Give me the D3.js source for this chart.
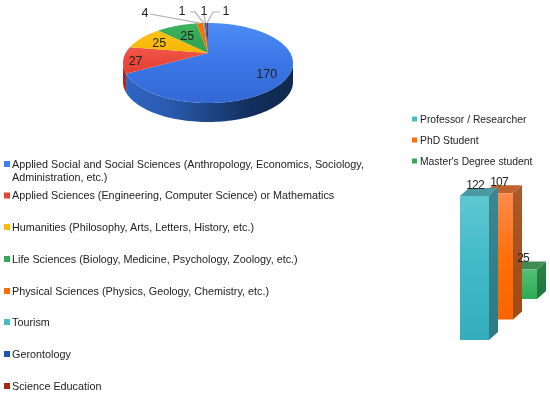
<!DOCTYPE html>
<html>
<head>
<meta charset="utf-8">
<script src="https://cdn.jsdelivr.net/npm/d3@7"></script>
<style>
  html, body { margin: 0; padding: 0; background: #fff; }
  svg { display: block; filter: blur(0.35px); }
  text { font-family: "Liberation Sans", Arial, sans-serif; fill: #222; }
</style>
</head>
<body>
<div id="vis"></div>
<script>
// Pie data
const areas = [
    "Applied Social and Social Sciences (Anthropology, Economics, Sociology,|Administration, etc.)",
    "Applied Sciences (Engineering, Computer Science) or Mathematics",
    "Humanities (Philosophy, Arts, Letters, History, etc.)",
    "Life Sciences (Biology, Medicine, Psychology, Zoology, etc.)",
    "Physical Sciences (Physics, Geology, Chemistry, etc.)",
    "Tourism",
    "Gerontology",
    "Science Education"
];
const areaValues = [170, 27, 25, 25, 4, 1, 1, 1];
const areaColors = ["#3f7ff0", "#ea4335", "#fbbc04", "#34a853", "#ff6d01", "#46bdc6", "#1a56b0", "#a52714"];
const areaLegendY = [164, 195.5, 227, 259, 291, 322, 354, 386];

// Bar data
const roles = ["Professor / Researcher", "PhD Student", "Master's Degree student"];
const roleValues = [122, 107, 25];
const roleColors = ["#46bdc6", "#ff6d01", "#34a853"];
const roleLegendY = [119, 140, 161];

const WIDTH = 550;
const HEIGHT = 394;

const SVG = d3.select("#vis").append("svg").attr("width", WIDTH).attr("height", HEIGHT);
const defs = SVG.append("defs");

function gradiente(id, stops, horizontal) {
    const g = defs.append("linearGradient").attr("id", id)
        .attr("x1", 0).attr("y1", 0)
        .attr("x2", horizontal ? 1 : 0).attr("y2", horizontal ? 0 : 1);
    stops.forEach((c, i) => g.append("stop").attr("offset", i / (stops.length - 1)).attr("stop-color", c));
    return `url(#${id})`;
}

// ---------- Pie, tilted with a bit of perspective ----------
const PIE = { cx: 208, cy: 53, rx: 82.3, ry: 37.5, persp: 0.25, depth: 19 };

// angle clockwise from the top, f = fraction of the radius
function proyectar(a, f = 1) {
    const s = Math.sin(a) * f, c = Math.cos(a) * f;
    const k = 1 / (1 + PIE.persp * c);
    return [PIE.cx + PIE.rx * s * k, PIE.cy - PIE.ry * c * k];
}

function arco(a0, a1) {
    const n = Math.max(2, Math.ceil((a1 - a0) / 0.03));
    return d3.range(n + 1).map(i => proyectar(a0 + (a1 - a0) * i / n));
}

const linea = d3.line();
const slices = d3.pie().sort(null)(areaValues);
const pieG = SVG.append("g").attr("class", "pie");

// Wall: only the front part of the rim is visible
const frontIni = Math.acos(-PIE.persp);
const frontFin = 2 * Math.PI - frontIni;
const wallFill = [
    gradiente("wall0", ["#2f64c4", "#2a5bb0", "#1d4685", "#122e5c", "#10294f"], true),
    "#a32a20"
];
slices.forEach((d, i) => {
    const a0 = Math.max(d.startAngle, frontIni);
    const a1 = Math.min(d.endAngle, frontFin);
    if (a1 <= a0) return;
    const top = arco(a0, a1);
    const bottom = top.map(p => [p[0], p[1] + PIE.depth]).reverse();
    pieG.append("path")
        .attr("d", linea(top.concat(bottom)) + "Z")
        .attr("fill", wallFill[i] || areaColors[i]);
});

const sliceFill = [
    gradiente("s0", ["#4d8cf5", "#3a76e6", "#3368d4"]),
    gradiente("s1", ["#f0564a", "#e53d30"]),
    gradiente("s2", ["#fcc21d", "#f8b500"]),
    gradiente("s3", ["#3fb360", "#2f9f4c"]),
    "#ff6d01", "#46bdc6", "#1a56b0", "#a52714"
];
slices.forEach((d, i) => {
    const pts = [[PIE.cx, PIE.cy]].concat(arco(d.startAngle, d.endAngle));
    pieG.append("path").attr("d", linea(pts) + "Z").attr("fill", sliceFill[i]);
});

// Labels inside the big slices, leader lines for the small ones
const insideFrac = [0.75, 0.86, 0.72, 0.62];
const insideDy = [9, 6, 5, 5];
slices.slice(0, 4).forEach((d, i) => {
    const p = proyectar((d.startAngle + d.endAngle) / 2, insideFrac[i]);
    pieG.append("text").attr("x", p[0]).attr("y", p[1] + insideDy[i])
        .attr("text-anchor", "middle").attr("font-size", 12.5).text(d.value);
});

const leaderLabel = [[145, 12], [182, 10], [204, 10], [226, 10]];
const leaderElbow = [[150, 14], [195, 12], [204, 15], [213, 12]];
const leaderStart = [null, [190, 12], null, [220, 12]];
slices.slice(4).forEach((d, i) => {
    const p = proyectar((d.startAngle + d.endAngle) / 2);
    const pts = [leaderStart[i], leaderElbow[i], p].filter(Boolean);
    pieG.append("path").attr("d", linea(pts))
        .attr("fill", "none").attr("stroke", "#b0b0b0").attr("stroke-width", 1.2);
    pieG.append("text").attr("x", leaderLabel[i][0]).attr("y", leaderLabel[i][1] + 4.5)
        .attr("text-anchor", "middle").attr("font-size", 12.5).text(d.value);
});

// ---------- Left legend ----------
const legend1 = SVG.append("g").attr("class", "legend-areas");
areas.forEach((t, i) => {
    const y = areaLegendY[i];
    legend1.append("rect").attr("x", 4).attr("y", y - 3).attr("width", 6).attr("height", 6).attr("fill", areaColors[i]);
    t.split("|").forEach((parte, j) => {
        legend1.append("text").attr("x", 12).attr("y", y + 3.8 + j * 13)
            .attr("font-size", 10.8).text(parte);
    });
});

// ---------- Right legend ----------
const legend2 = SVG.append("g").attr("class", "legend-roles");
roles.forEach((t, i) => {
    const y = roleLegendY[i];
    legend2.append("rect").attr("x", 412).attr("y", y - 2.5).attr("width", 5).attr("height", 5).attr("fill", roleColors[i]);
    legend2.append("text").attr("x", 420).attr("y", y + 3.6).attr("font-size", 10.35).text(t);
});

// ---------- 3D bars: each one steps right and up from the previous ----------
const BAR_W = 29, DEPTH_X = 9, DEPTH_Y = 8;
const escalaX = d3.scalePoint().domain(roles).range([460, 508]);
const escalaBase = d3.scalePoint().domain(roles).range([340, 299]);
const escalaAlto = d3.scaleLinear().domain([0, 122]).range([0, 144]);

const barFront = [
    gradiente("f0", ["#5ec8d1", "#3fb9c8", "#35adbd"]),
    gradiente("f1", ["#ff8b4d", "#ff6f0a", "#fa6400"]),
    gradiente("f2", ["#52c073", "#2eaa55"])
];
const barSide = [
    gradiente("l0", ["#3b8690", "#2b7a86"]),
    gradiente("l1", ["#ab5a2b", "#a04a12"]),
    gradiente("l2", ["#2c8348", "#1d7538"])
];
const barTop = ["#4b9aa2", "#c0622f", "#3f8c57"];

const barsG = SVG.append("g").attr("class", "bars");
// last role first, the first bar sits in front
d3.range(roles.length).reverse().forEach(i => {
    const r = roles[i];
    const x0 = escalaX(r), x1 = x0 + BAR_W;
    const y1 = escalaBase(r), y0 = y1 - escalaAlto(roleValues[i]);
    barsG.append("path").attr("fill", barTop[i])
        .attr("d", linea([[x0, y0], [x0 + DEPTH_X, y0 - DEPTH_Y], [x1 + DEPTH_X, y0 - DEPTH_Y], [x1, y0]]) + "Z");
    barsG.append("path").attr("fill", barSide[i])
        .attr("d", linea([[x1, y0], [x1 + DEPTH_X, y0 - DEPTH_Y], [x1 + DEPTH_X, y1 - DEPTH_Y], [x1, y1]]) + "Z");
    barsG.append("rect").attr("x", x0).attr("y", y0)
        .attr("width", BAR_W).attr("height", y1 - y0).attr("fill", barFront[i]);
});

const barLabelX = [475, 499, 523];
roles.forEach((r, i) => {
    const y0 = escalaBase(r) - escalaAlto(roleValues[i]);
    SVG.append("text").attr("x", barLabelX[i]).attr("y", y0 - 7)
        .attr("text-anchor", "middle").attr("font-size", 12).attr("letter-spacing", -0.8)
        .text(roleValues[i]);
});
</script>
</body>
</html>
